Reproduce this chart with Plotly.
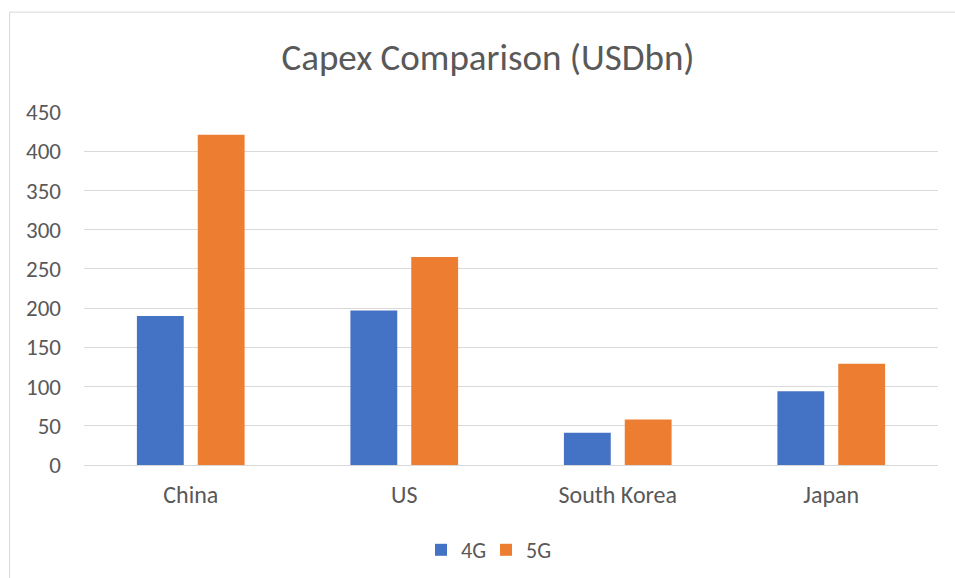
import plotly.graph_objects as go

categories = ["China", "US", "South Korea", "Japan"]
capex_4g = [190, 197, 41, 94]
capex_5g = [421, 265, 58, 129]
series_names = ["4G", "5G"]
y_ticks = [0, 50, 100, 150, 200, 250, 300, 350, 400, 450]

W, H = 955, 578
L, R, T, B = 83.5, 16.5, 112, 112.5
pw, ph = W - L - R, H - T - B

def px_x(x):
    return (x - L) / pw

def px_y(y):
    return (H - B - y) / ph

FONT = "Carlito, Open Sans"
TXT = "#595959"

fig = go.Figure()
fig.add_trace(go.Bar(x=categories, y=capex_4g, name=series_names[0],
                     marker=dict(color="#4472C4", line=dict(width=0))))
fig.add_trace(go.Bar(x=categories, y=capex_5g, name=series_names[1],
                     marker=dict(color="#ED7D31", line=dict(width=0))))

fig.update_layout(
    width=W, height=H,
    margin=dict(l=L, r=R, t=T, b=B, pad=0, autoexpand=False),
    paper_bgcolor="white", plot_bgcolor="white",
    barmode="group", bargap=0.43, bargroupgap=0.23,
    title=dict(text="Capex Comparison (USDbn)", x=488 / W, xref="container", xanchor="center",
               y=1 - 57 / H, yref="container", yanchor="middle",
               font=dict(family=FONT, size=37, color=TXT)),
    font=dict(family=FONT, size=22, color=TXT),
    legend=dict(orientation="h", x=486 / W, xref="container", xanchor="center",
                y=1 - 550 / H, yref="container", yanchor="middle",
                font=dict(family=FONT, size=22, color=TXT), itemwidth=30,
                entrywidth=20, entrywidthmode="pixels",
                traceorder="normal"),
    xaxis=dict(showgrid=False, showline=True, linecolor="#D9D9D9", linewidth=1,
               automargin=False,
               ticks="", tickfont=dict(size=24, color=TXT), ticklabelstandoff=8),
    yaxis=dict(range=[0, 450], tickvals=y_ticks, showgrid=True, gridcolor="#D9D9D9",
               automargin=False,
               gridwidth=1, zeroline=False, showline=False, ticks="",
               tickfont=dict(size=23, color=TXT), ticklabelstandoff=22),
    shapes=[dict(type="rect", xref="paper", yref="paper",
                 x0=px_x(9), x1=px_x(990), y0=px_y(600), y1=px_y(12),
                 line=dict(color="#D9D9D9", width=1), fillcolor="rgba(0,0,0,0)",
                 layer="below")],
)

fig.write_html("out.html", config={"displayModeBar": False},
               post_script="document.body.style.margin='0';")
